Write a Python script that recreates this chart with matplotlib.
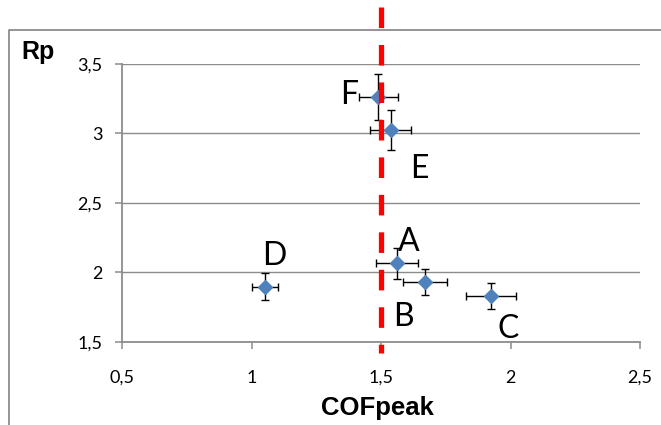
import matplotlib
matplotlib.use("Agg")
import matplotlib.pyplot as plt
from matplotlib.lines import Line2D

# samples
labels = ["A", "B", "C", "D", "E", "F"]
cof_peak = [1.561, 1.670, 1.925, 1.052, 1.537, 1.490]
rp = [2.066, 1.929, 1.831, 1.898, 3.025, 3.265]
cof_err = [0.082, 0.086, 0.097, 0.051, 0.078, 0.075]
rp_err = [0.110, 0.094, 0.094, 0.096, 0.147, 0.165]

# where each letter sits relative to its point (pixels)
label_offsets = [(12, 21), (-22, -35), (17, -33), (9, 31), (29, -39), (-29, 2)]

cof_threshold = 1.5

x_ticks = [0.5, 1, 1.5, 2, 2.5]
y_ticks = [1.5, 2, 2.5, 3, 3.5]

grey = "#8c8c8c"
blue = "#4f81bd"

plt.rcParams["font.family"] = ["Lato", "DejaVu Sans"]

fig = plt.figure(figsize=(6.61, 4.25), dpi=100)
ax = fig.add_axes([122 / 661, 1 - 342 / 425, 518 / 661, 278 / 425])

ax.errorbar(cof_peak, rp, xerr=cof_err, yerr=rp_err, fmt="none",
            ecolor="black", elinewidth=1.0, capsize=3, capthick=1.0, zorder=3)
ax.plot(cof_peak, rp, linestyle="none", marker="D", markersize=6.8,
        color=blue, markeredgecolor=blue, zorder=4)

for lab, x, y, off in zip(labels, cof_peak, rp, label_offsets):
    ax.annotate(lab, (x, y), xytext=off, textcoords="offset pixels",
                ha="center", va="center", fontsize=23, color="black")

# threshold line, runs past the plot area like in the original
ax.axvline(cof_threshold, ymin=1.205, ymax=-0.04, color="red", linewidth=3.8,
           linestyle=(0, (3.9, 3.2)), clip_on=False, zorder=5)

ax.set_xlim(0.5, 2.5)
ax.set_ylim(1.5, 3.5)
ax.set_xticks(x_ticks)
ax.set_yticks(y_ticks)
ax.set_xticklabels([str(v).replace(".", ",") for v in x_ticks])
ax.set_yticklabels([str(v).replace(".", ",") for v in y_ticks])
ax.tick_params(axis="both", direction="out", length=5, width=1.1, color=grey,
               labelsize=13)
ax.tick_params(axis="x", pad=15)
ax.tick_params(axis="y", pad=9)

ax.grid(axis="y", color=grey, linewidth=1.0)
ax.set_axisbelow(True)
for side in ["top", "right"]:
    ax.spines[side].set_visible(False)
for side in ["left", "bottom"]:
    ax.spines[side].set_color(grey)
    ax.spines[side].set_linewidth(1.3)

fig.text(38 / 661, 1 - 52 / 425, "Rp", family="Liberation Sans",
         fontweight="bold", fontsize=18, ha="center", va="center")
fig.text(377 / 661, 1 - 408 / 425, "COFpeak", family="Liberation Sans",
         fontweight="bold", fontsize=18.5, ha="center", va="center")

# chart area frame (only top and left edges are inside the picture)
fig.add_artist(Line2D([9 / 661, 9 / 661, 1.0], [0.0, 1 - 30 / 425, 1 - 30 / 425],
                      transform=fig.transFigure, color=grey, linewidth=1.3))

fig.savefig("out.png", dpi=100)
